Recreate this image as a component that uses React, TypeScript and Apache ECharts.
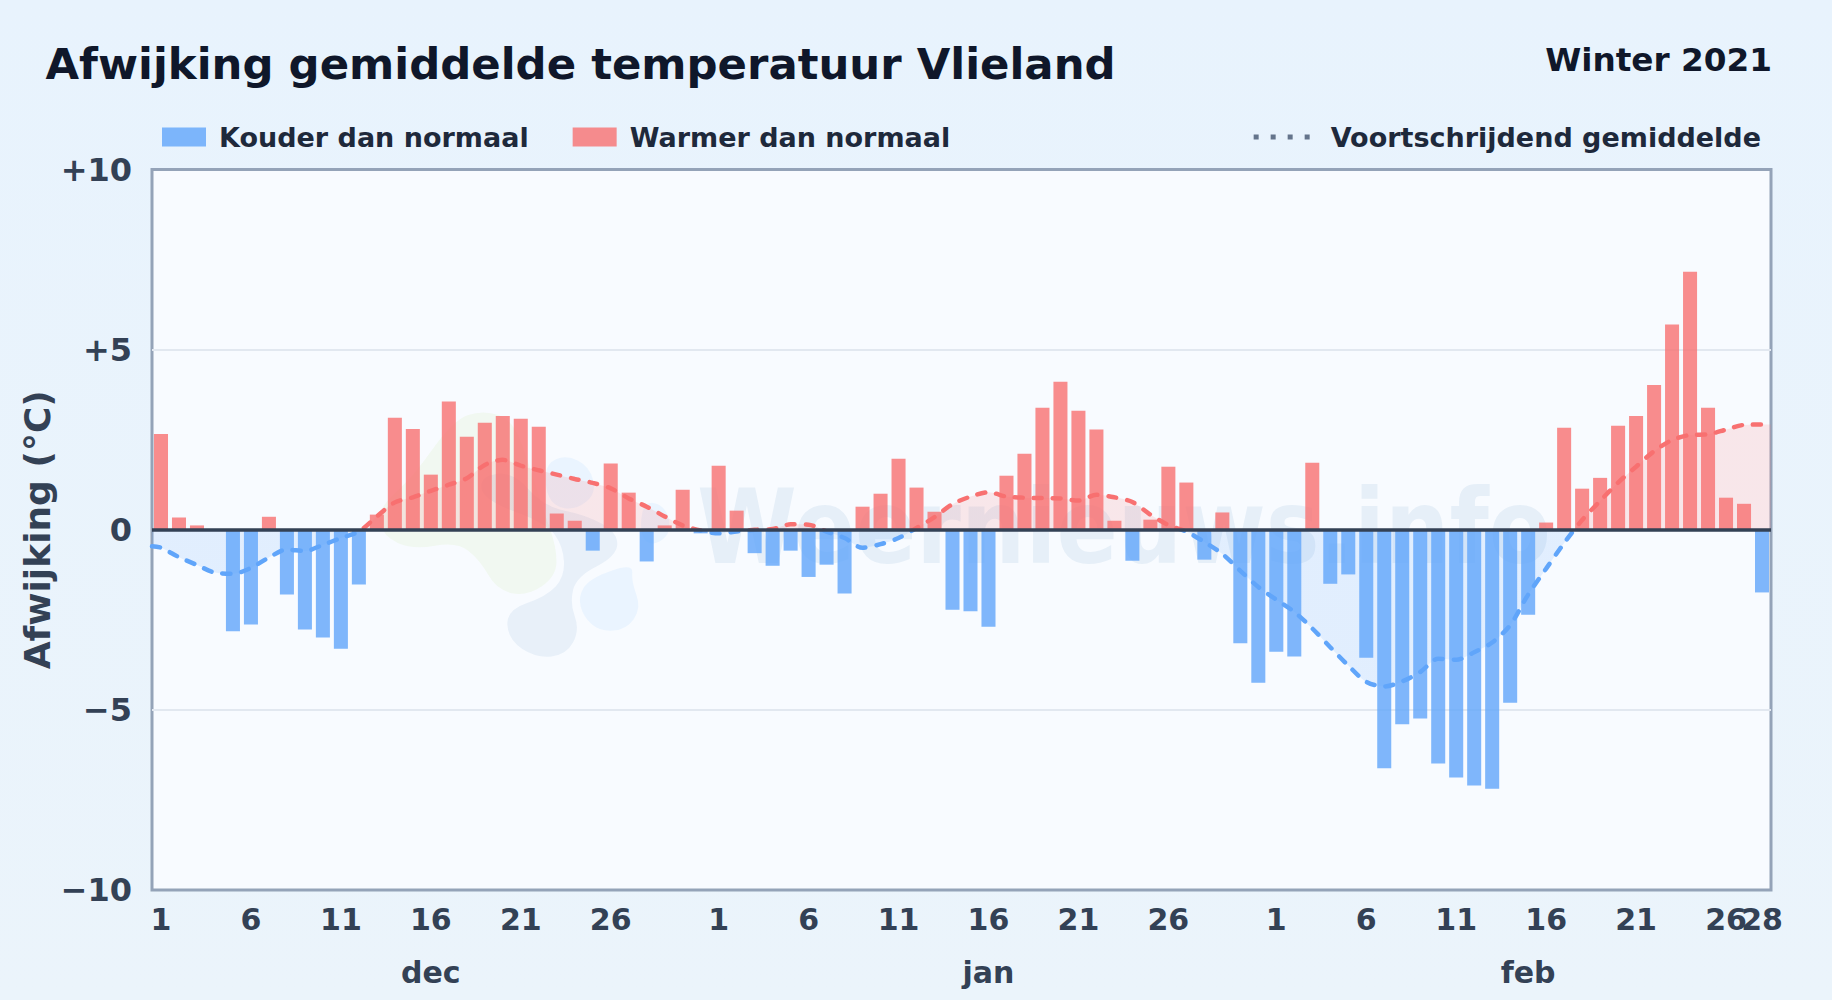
import React, { useEffect, useRef } from "react";
import * as echarts from "echarts";

const chartTitle = "Afwijking gemiddelde temperatuur Vlieland";
const chartSubtitle = "Winter 2021";
const coldName = "Kouder dan normaal";
const warmName = "Warmer dan normaal";
const avgName = "Voortschrijdend gemiddelde";
const yAxisName = "Afwijking (°C)";
const watermark = "Weernieuws.info";

const deviationDec = [2.66, 0.34, 0.12, 0, -2.82, -2.63, 0.36, -1.8, -2.77, -2.99, -3.3, -1.52, 0.42, 3.11, 2.8, 1.53, 3.56, 2.58, 2.97, 3.16, 3.08, 2.86, 0.45, 0.25, -0.58, 1.84, 1.03, -0.88, 0.12, 1.11, -0.1];
const deviationJan = [1.78, 0.53, -0.65, -1.0, -0.58, -1.31, -0.97, -1.77, 0.64, 1.0, 1.97, 1.17, 0.5, -2.22, -2.26, -2.69, 1.5, 2.11, 3.39, 4.11, 3.3, 2.78, 0.25, -0.86, 0.28, 1.75, 1.31, -0.83, 0.48, -3.15, -4.25];
const deviationFeb = [-3.39, -3.52, 1.86, -1.5, -1.24, -3.55, -6.62, -5.4, -5.24, -6.49, -6.88, -7.1, -7.19, -4.8, -2.36, 0.2, 2.83, 1.14, 1.44, 2.89, 3.16, 4.02, 5.7, 7.16, 3.39, 0.89, 0.72, -1.74];

const rollingDec = [-0.5, -0.76, -0.98, -1.19, -1.22, -1.06, -0.77, -0.55, -0.59, -0.42, -0.23, -0.05, 0.37, 0.76, 0.9, 1.08, 1.25, 1.43, 1.8, 1.94, 1.78, 1.65, 1.53, 1.41, 1.3, 1.15, 0.87, 0.64, 0.37, 0.12, -0.02];
const rollingJan = [-0.1, -0.05, 0, 0.02, 0.15, 0.14, -0.05, -0.23, -0.5, -0.4, -0.23, 0.05, 0.35, 0.71, 0.92, 1.04, 0.92, 0.89, 0.88, 0.87, 0.81, 0.97, 0.9, 0.77, 0.42, 0.13, -0.05, -0.34, -0.67, -1.14, -1.59];
const rollingFeb = [-1.94, -2.28, -2.74, -3.26, -3.77, -4.22, -4.35, -4.21, -3.95, -3.58, -3.61, -3.4, -3.13, -2.65, -1.8, -1.08, -0.37, 0.27, 0.8, 1.31, 1.75, 2.18, 2.49, 2.63, 2.65, 2.78, 2.91, 2.92];
const rollingEdgeStart = -0.46;
const rollingEdgeEnd = 2.92;

const yTickLabels: Record<string, string> = { "10": "+10", "5": "+5", "0": "0", "-5": "−5", "-10": "−10" };

const deviation = [...deviationDec, ...deviationJan, ...deviationFeb];
const rolling = [...rollingDec, ...rollingJan, ...rollingFeb];
const dayCounts = [deviationDec.length, deviationJan.length, deviationFeb.length];
const days = dayCounts.flatMap((n) => Array.from({ length: n }, (_, i) => String(i + 1)));
const monthMarks: Record<number, string> = { 15: "dec", 46: "jan", 76: "feb" };
const monthAxis = days.map((_, i) => monthMarks[i] ?? "");

const FONT = "DejaVu Sans";
const TICK = "#334155";

function blob(pts: number[][]): string {
  const mid = (a: number[], b: number[]) => [(a[0] + b[0]) / 2, (a[1] + b[1]) / 2];
  const n = pts.length;
  const s = mid(pts[n - 1], pts[0]);
  let d = `M${s[0]} ${s[1]}`;
  for (let i = 0; i < n; i++) {
    const m = mid(pts[i], pts[(i + 1) % n]);
    d += `Q${pts[i][0]} ${pts[i][1]} ${m[0]} ${m[1]}`;
  }
  return d + "Z";
}

const greenBlob = [[20, 330], [130, 230], [250, 60], [340, 30], [430, 60], [480, 200], [520, 330], [560, 440], [560, 530], [470, 590], [380, 570], [330, 480], [260, 425], [130, 450], [40, 410]];
const greyBlob = [[330, 230], [430, 215], [520, 320], [650, 345], [745, 400], [740, 470], [620, 530], [600, 610], [630, 690], [590, 765], [500, 775], [415, 720], [410, 630], [530, 590], [585, 530], [580, 440], [530, 370], [340, 300]];
const lightBlobTop = [[530, 190], [590, 165], [660, 200], [680, 280], [620, 330], [550, 320], [525, 260]];
const lightBlobBottom = [[625, 590], [660, 535], [790, 490], [785, 545], [815, 625], [770, 690], [690, 695], [640, 650]];
const lightBlobRight = [[820, 300], [890, 320], [905, 400], [850, 440], [810, 410]];

echarts.graphic.registerShape("wmGreen", echarts.graphic.extendPath(blob(greenBlob), {}));
echarts.graphic.registerShape("wmGrey", echarts.graphic.extendPath(blob(greyBlob), {}));
echarts.graphic.registerShape("wmLightTop", echarts.graphic.extendPath(blob(lightBlobTop), {}));
echarts.graphic.registerShape("wmLightBottom", echarts.graphic.extendPath(blob(lightBlobBottom), {}));
echarts.graphic.registerShape("wmLightRight", echarts.graphic.extendPath(blob(lightBlobRight), {}));

export default function App() {
  const ref = useRef<HTMLDivElement>(null);
  useEffect(() => {
    const chart = echarts.init(ref.current!, null, { renderer: "svg" });
    const blobEl = (type: string, fill: string) => ({
      type, x: 370, y: 400, scaleX: 1 / 3, scaleY: 1 / 3, z: 1, silent: true, style: { fill },
    });
    const avgPoints: number[][] = [[0, rollingEdgeStart], ...rolling.map((v, i) => [i + 0.5, v]), [days.length, rollingEdgeEnd]];
    const lastDay = days.length - 1;
    const dayLabel = { margin: 14, fontFamily: FONT, fontSize: 30, fontWeight: "bold", color: TICK };
    chart.setOption({
      animation: false,
      backgroundColor: new echarts.graphic.LinearGradient(0, 0, 0, 1, [
        { offset: 0, color: "#e8f3fd" },
        { offset: 1, color: "#ebf4fb" },
      ]),
      textStyle: { fontFamily: FONT },
      title: [
        { text: chartTitle, left: 45.5, top: 42.5, padding: 0, textStyle: { fontFamily: FONT, fontSize: 43.4, fontWeight: "bold", color: "#0f172a" } },
        { text: chartSubtitle, right: 60, top: 43, padding: 0, textStyle: { fontFamily: FONT, fontSize: 32.7, fontWeight: "bold", color: "#0f172a" } },
      ],
      legend: [
        {
          left: 162, top: 123.5, padding: 0, itemWidth: 44, itemHeight: 19, itemGap: 44, selectedMode: false, icon: "rect",
          textStyle: { fontFamily: FONT, fontSize: 27, fontWeight: "bold", color: "#1e293b", padding: [0, 0, 0, 8] },
          data: [coldName, warmName],
        },
        {
          right: 71, top: 123.5, padding: 0, itemWidth: 56, itemHeight: 5, selectedMode: false,
          textStyle: { fontFamily: FONT, fontSize: 27, fontWeight: "bold", color: "#1e293b", padding: [0, 0, 0, 16] },
          data: [{ name: avgName, icon: "path://M0 0h5v5H0zM17 0h5v5h-5zM34 0h5v5h-5zM51 0h5v5h-5z", itemStyle: { color: "#64748b", opacity: 1 } }],
        },
      ],
      grid: { left: 152, right: 1832 - 1771, top: 169.5, bottom: 1000 - 890, show: true, outerBoundsMode: "none", backgroundColor: "#f8fbff", borderColor: "#94a3b8", borderWidth: 3 },
      xAxis: [
        {
          type: "category", data: days, boundaryGap: true, axisLine: { show: false }, axisTick: { show: false }, splitLine: { show: false },
          axisLabel: {
            ...dayLabel,
            interval: (i: number, v: string) => i !== lastDay && Number(v) !== 31 && (Number(v) - 1) % 5 === 0,
          },
        },
        {
          type: "category", data: monthAxis, position: "bottom", axisLine: { show: false }, axisTick: { show: false }, splitLine: { show: false },
          axisLabel: { interval: 0, margin: 67, fontFamily: FONT, fontSize: 30, fontWeight: "bold", color: TICK },
        },
        { type: "value", min: 0, max: days.length, show: false, position: "bottom" },
        {
          type: "category", data: days, position: "bottom", axisLine: { show: false }, axisTick: { show: false }, splitLine: { show: false },
          axisLabel: { ...dayLabel, interval: (i: number) => i === lastDay },
        },
      ],
      yAxis: {
        type: "value", min: -10, max: 10, interval: 5,
        name: yAxisName, nameLocation: "middle", nameGap: 97, nameMoveOverlap: false,
        nameTextStyle: { fontFamily: FONT, fontSize: 36, fontWeight: "bold", color: TICK },
        axisLine: { show: false }, axisTick: { show: false },
        axisLabel: { margin: 20, fontFamily: FONT, fontSize: 32, fontWeight: "bold", color: TICK, formatter: (v: number) => yTickLabels[String(v)] ?? String(v) },
        splitLine: { show: true, showMinLine: false, showMaxLine: false, lineStyle: { color: "#e2e8f0", width: 2 } },
      },
      visualMap: {
        show: false, type: "piecewise", seriesIndex: 0, dimension: 1,
        pieces: [{ gte: -20, lt: 0, color: "#60a5fa" }, { gte: 0, lte: 20, color: "#f87171" }],
      },
      graphic: [
        blobEl("wmGreen", "rgba(132,204,22,0.06)"),
        blobEl("wmGrey", "rgba(30,100,170,0.07)"),
        blobEl("wmLightTop", "rgba(56,160,248,0.07)"),
        blobEl("wmLightBottom", "rgba(56,160,248,0.07)"),
        blobEl("wmLightRight", "rgba(56,160,248,0.07)"),
        {
          type: "text", x: 1124, y: 527, scaleX: 0.87, z: 1, silent: true,
          style: { text: watermark, font: `bold 104px "${FONT}"`, fill: "rgba(30,100,170,0.08)", textAlign: "center", textVerticalAlign: "middle" },
        },
      ],
      series: [
        {
          name: avgName, type: "line", xAxisIndex: 2, yAxisIndex: 0, z: 2, smooth: 0.3, showSymbol: false, symbol: "none",
          data: avgPoints,
          lineStyle: { width: 4.5, type: [8, 11], cap: "round" },
          areaStyle: { opacity: 0.15, origin: 0 },
          silent: true,
        },
        {
          name: coldName, type: "bar", xAxisIndex: 0, z: 3, barWidth: "78%", barGap: "-100%",
          itemStyle: { color: "#60a5fa", opacity: 0.8 },
          data: deviation.map((v) => (v < 0 ? v : null)),
        },
        {
          name: warmName, type: "bar", xAxisIndex: 0, z: 3, barWidth: "78%", barGap: "-100%",
          itemStyle: { color: "#f87171", opacity: 0.8 },
          data: deviation.map((v) => (v > 0 ? v : null)),
          markLine: {
            silent: true, symbol: "none", z: 5, label: { show: false },
            lineStyle: { color: "#334155", width: 3.5, type: "solid" },
            data: [{ yAxis: 0 }],
          },
        },
      ],
    });
    return () => chart.dispose();
  }, []);
  return <div ref={ref} style={{ position: "fixed", left: 0, top: 0, width: 1832, height: 1000 }} />;
}
